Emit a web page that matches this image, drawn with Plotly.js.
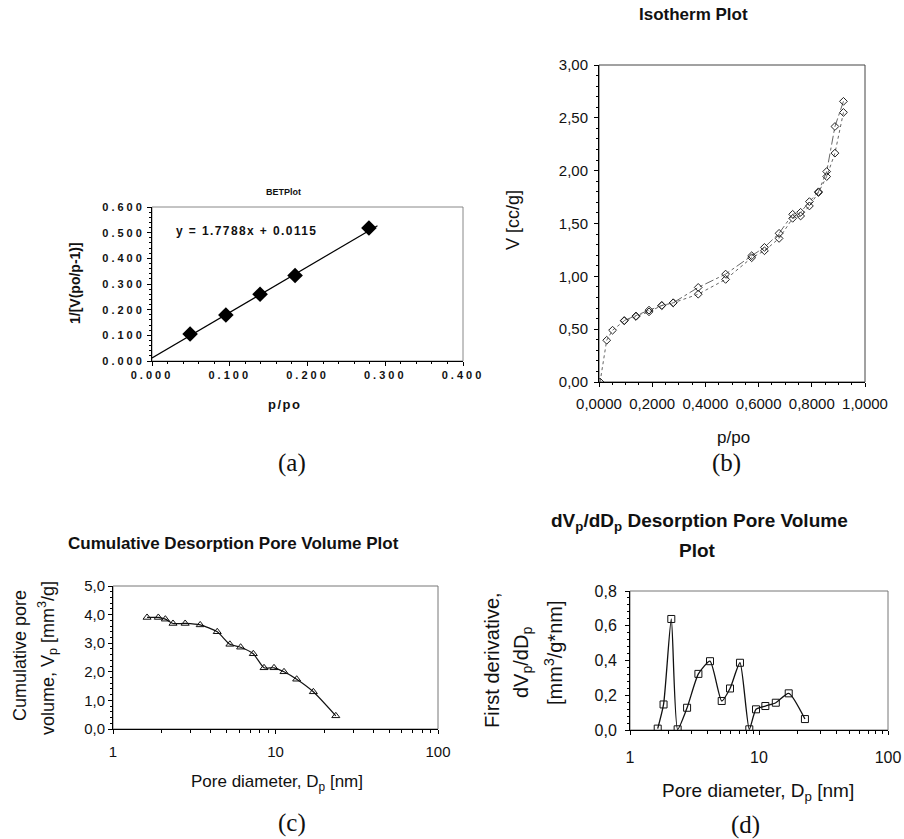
<!DOCTYPE html>
<html><head><meta charset="utf-8">
<script src="https://cdn.plot.ly/plotly-3.0.1.min.js"></script>
<style>
html,body{margin:0;padding:0;background:#fff;}
#chart{width:904px;height:839px;}
.subplot.xy .xtick text, .subplot.xy .ytick text{letter-spacing:3px;}
.annotation[data-index="1"] text{letter-spacing:1.4px;}
.annotation[data-index="3"] text{letter-spacing:1.5px;}
</style></head><body><div id="chart"></div>
<script>
// (a) BET plot
const betX = [0.049, 0.095, 0.139, 0.184, 0.279];
const betY = [0.105, 0.179, 0.260, 0.333, 0.518];
const betTrendX = [0.0, 0.29];
const betTrendY = [0.0115, 0.527];
const betXTicks = [0, 0.1, 0.2, 0.3, 0.4];
const betXTickText = ['0.000', '0.100', '0.200', '0.300', '0.400'];
const betYTicks = [0, 0.1, 0.2, 0.3, 0.4, 0.5, 0.6];
const betYTickText = ['0.000', '0.100', '0.200', '0.300', '0.400', '0.500', '0.600'];

// (b) Isotherm plot
const isoAdsX = [0.004, 0.029, 0.051, 0.095, 0.139, 0.188, 0.236, 0.279, 0.373, 0.476, 0.574, 0.622, 0.677, 0.728, 0.758, 0.791, 0.825, 0.856, 0.887, 0.919];
const isoAdsY = [0.00, 0.395, 0.49, 0.579, 0.62, 0.664, 0.724, 0.749, 0.831, 0.971, 1.176, 1.242, 1.359, 1.549, 1.571, 1.666, 1.793, 1.944, 2.166, 2.551];
const isoDesX = [0.919, 0.887, 0.856, 0.825, 0.791, 0.758, 0.728, 0.677, 0.622, 0.574, 0.476, 0.373, 0.279, 0.236, 0.188, 0.139, 0.095];
const isoDesY = [2.656, 2.418, 1.992, 1.80, 1.707, 1.606, 1.587, 1.407, 1.274, 1.195, 1.021, 0.895, 0.75, 0.724, 0.68, 0.625, 0.582];
const isoXTicks = [0, 0.2, 0.4, 0.6, 0.8, 1.0];
const isoXTickText = ['0,0000', '0,2000', '0,4000', '0,6000', '0,8000', '1,0000'];
const isoYTicks = [0, 0.5, 1.0, 1.5, 2.0, 2.5, 3.0];
const isoYTickText = ['0,00', '0,50', '1,00', '1,50', '2,00', '2,50', '3,00'];

// (c) Cumulative desorption pore volume
const cumD = [1.62, 1.90, 2.10, 2.34, 2.78, 3.44, 4.38, 5.24, 6.10, 7.30, 8.50, 9.79, 11.28, 13.5, 17.1, 23.5];
const cumV = [3.90, 3.90, 3.84, 3.69, 3.69, 3.64, 3.40, 2.96, 2.86, 2.63, 2.14, 2.14, 2.00, 1.74, 1.30, 0.46];
const cumYTicks = [0, 1, 2, 3, 4, 5];
const cumYTickText = ['0,0', '1,0', '2,0', '3,0', '4,0', '5,0'];

// (d) dVp/dDp desorption pore volume
const derD = [1.64, 1.82, 2.09, 2.34, 2.77, 3.39, 4.17, 5.14, 5.96, 7.12, 8.41, 9.48, 11.2, 13.5, 17.0, 22.7];
const derV = [0.008, 0.147, 0.639, 0.004, 0.128, 0.323, 0.396, 0.167, 0.239, 0.387, 0.004, 0.119, 0.138, 0.157, 0.211, 0.063];
const derYTicks = [0, 0.2, 0.4, 0.6, 0.8];
const derYTickText = ['0,0', '0,2', '0,4', '0,6', '0,8'];

const logTicks = [1, 10, 100];
const logTickText = ['1', '10', '100'];

const W = 904, H = 839;
const px = v => v / W;
const py = v => 1 - v / H;
const SANS = 'Liberation Sans, Arial, sans-serif';
const SERIF = 'Liberation Serif, Times New Roman, serif';

const traces = [
  {x: betTrendX, y: betTrendY, xaxis: 'x', yaxis: 'y', mode: 'lines',
   line: {color: '#000', width: 1.2}, hoverinfo: 'skip'},
  {x: betX, y: betY, xaxis: 'x', yaxis: 'y', mode: 'markers',
   marker: {symbol: 'diamond', size: 12, color: '#000'}},
  {x: isoAdsX, y: isoAdsY, xaxis: 'x2', yaxis: 'y2', mode: 'lines+markers',
   line: {color: '#666', width: 1, dash: 'dot'},
   marker: {symbol: 'diamond-open', size: 6, color: '#222', line: {width: 1}}},
  {x: isoDesX, y: isoDesY, xaxis: 'x2', yaxis: 'y2', mode: 'lines+markers',
   line: {color: '#666', width: 1, dash: 'dashdot'},
   marker: {symbol: 'diamond-open', size: 6, color: '#222', line: {width: 1}}},
  {x: cumD, y: cumV, xaxis: 'x3', yaxis: 'y3', mode: 'lines+markers',
   line: {color: '#111', width: 1.2, shape: 'spline', smoothing: 0.6},
   marker: {symbol: 'triangle-up-open', size: 7, color: '#111', line: {width: 1}}},
  {x: derD, y: derV, xaxis: 'x4', yaxis: 'y4', mode: 'lines+markers',
   line: {color: '#111', width: 1.3, shape: 'spline', smoothing: 0.6},
   marker: {symbol: 'square-open', size: 7, color: '#111', line: {width: 1}}}
];

function ax(extra) {
  return Object.assign({
    showgrid: false, zeroline: false, showline: true, linecolor: '#000', linewidth: 1,
    ticks: 'outside', ticklen: 4, tickcolor: '#000', tickmode: 'array',
    tickfont: {family: SANS, size: 15, color: '#111'}
  }, extra);
}

const layout = {
  width: W, height: H, margin: {l: 0, r: 0, t: 0, b: 0},
  paper_bgcolor: '#fff', plot_bgcolor: '#fff', showlegend: false,
  xaxis: ax({domain: [px(152), px(463)], anchor: 'y', range: [0, 0.4],
    tickvals: betXTicks, ticktext: betXTickText,
    tickfont: {family: SANS, size: 11, weight: 700, color: '#111'},
    minor: {dtick: 0.02, ticks: 'outside', ticklen: 2, tickcolor: '#000'}}),
  yaxis: ax({domain: [py(361), py(207)], anchor: 'x', range: [0, 0.6],
    tickvals: betYTicks, ticktext: betYTickText,
    tickfont: {family: SANS, size: 11, weight: 700, color: '#111'},
    minor: {dtick: 0.02, ticks: 'outside', ticklen: 2, tickcolor: '#000'}}),
  xaxis2: ax({domain: [px(599), px(865)], anchor: 'y2', range: [0, 1],
    tickvals: isoXTicks, ticktext: isoXTickText, ticklabelstandoff: 4,
    minor: {dtick: 0.05, ticks: 'outside', ticklen: 2, tickcolor: '#000'}}),
  yaxis2: ax({domain: [py(382), py(65)], anchor: 'x2', range: [0, 3],
    tickvals: isoYTicks, ticktext: isoYTickText, ticklabelstandoff: 3,
    minor: {dtick: 0.1, ticks: 'outside', ticklen: 2, tickcolor: '#000'}}),
  xaxis3: ax({domain: [px(113), px(438)], anchor: 'y3', type: 'log', range: [0, 2],
    tickvals: logTicks, ticktext: logTickText, ticklabelstandoff: 5,
    minor: {dtick: 'D1', ticks: 'outside', ticklen: 3, tickcolor: '#000'}}),
  yaxis3: ax({domain: [py(729), py(586)], anchor: 'x3', range: [0, 5],
    tickvals: cumYTicks, ticktext: cumYTickText,
    minor: {dtick: 0.2, ticks: 'outside', ticklen: 2, tickcolor: '#000'}}),
  xaxis4: ax({domain: [px(630), px(888)], anchor: 'y4', type: 'log', range: [0, 2],
    tickvals: logTicks, ticktext: logTickText, ticklabelstandoff: 9,
    tickfont: {family: SANS, size: 16, color: '#111'},
    minor: {dtick: 'D1', ticks: 'outside', ticklen: 3, tickcolor: '#000'}}),
  yaxis4: ax({domain: [py(730), py(591)], anchor: 'x4', range: [0, 0.8],
    tickvals: derYTicks, ticktext: derYTickText, ticklabelstandoff: 5,
    tickfont: {family: SANS, size: 16, color: '#111'},
    minor: {dtick: 0.04, ticks: 'outside', ticklen: 2, tickcolor: '#000'}}),
  shapes: [
    ['x', 'y', '#888'], ['x2', 'y2', '#444'], ['x3', 'y3', '#777'], ['x4', 'y4', '#777']
  ].map(([xa, ya, c]) => ({type: 'rect', xref: xa + ' domain', yref: ya + ' domain',
    x0: 0, x1: 1, y0: 0, y1: 1, line: {color: c, width: 1}, layer: 'below'})),
  annotations: []
};

function note(text, x, y, size, opts) {
  layout.annotations.push(Object.assign({
    text: text, x: px(x), y: py(y), xref: 'paper', yref: 'paper',
    xanchor: 'center', yanchor: 'middle', showarrow: false,
    font: {family: SANS, size: size, color: '#111'}
  }, opts || {}));
}
const bold = s => ({family: SANS, size: s, color: '#111', weight: 700});

// (a)
note('BETPlot', 283, 192, 9, {font: bold(9)});
note('y = 1.7788x + 0.0115', 247, 231, 12, {font: bold(12)});
note('1/[V(po/p-1)]', 75, 283, 14, {font: bold(14), textangle: -90});
note('p/po', 284, 405, 13, {font: bold(13)});
note('(a)', 292, 463, 25, {font: {family: SERIF, size: 25, color: '#111'}});
// (b)
note('Isotherm Plot', 693, 15, 17, {font: bold(17)});
note('V [cc/g]', 513, 220, 18, {textangle: -90});
note('p/po', 733, 437, 17);
note('(b)', 726, 463, 25, {font: {family: SERIF, size: 25, color: '#111'}});
// (c)
note('Cumulative Desorption Pore Volume Plot', 233, 543, 17, {font: bold(17)});
note('Cumulative pore', 20, 656, 18, {textangle: -90});
note('volume, V<sub>p</sub> [mm<sup>3</sup>/g]', 47, 658, 18, {textangle: -90});
note('Pore diameter, D<sub>p</sub> [nm]', 277, 783, 17);
note('(c)', 292, 823, 25, {font: {family: SERIF, size: 25, color: '#111'}});
// (d)
note('dV<sub>p</sub>/dD<sub>p</sub> Desorption Pore Volume', 699, 522, 19, {font: bold(19)});
note('Plot', 697, 550, 19, {font: bold(19)});
note('First derivative,', 492, 660, 20, {textangle: -90});
note('dV<sub>p</sub>/dD<sub>p</sub>', 522, 663, 20, {textangle: -90});
note('[mm<sup>3</sup>/g*nm]', 553, 653, 20, {textangle: -90});
note('Pore diameter, D<sub>p</sub> [nm]', 758, 792, 19);
note('(d)', 745, 825, 25, {font: {family: SERIF, size: 25, color: '#111'}});

Plotly.newPlot('chart', traces, layout, {displayModeBar: false, staticPlot: true});
</script></body></html>
